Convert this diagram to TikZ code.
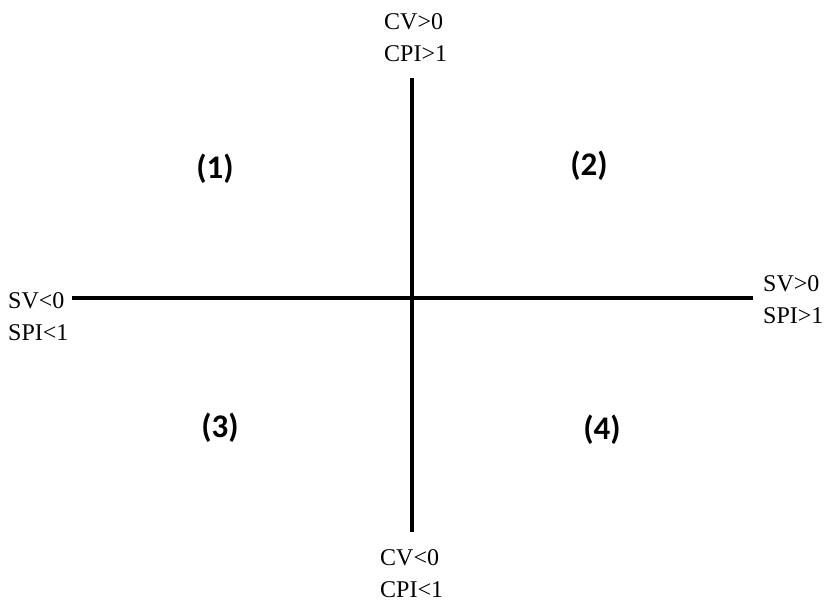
\documentclass[tikz,border=0pt]{standalone}
\usepackage{fontspec}
\setmainfont{Liberation Serif}
\newfontfamily\calib{Carlito}
\usetikzlibrary{positioning}

\begin{document}
\begin{tikzpicture}[
  x=1pt, y=-1pt,
  axis/.style={line width=3.6pt},
  cond/.style={inner sep=0pt, align=left, font=\fontsize{24}{32}\selectfont},
  quad/.style={inner sep=0pt, font=\calib\bfseries\fontsize{33}{38}\selectfont}
]
  \useasboundingbox (0,0) rectangle (834,602);
  \coordinate (ytop) at (412,78);
  \coordinate (ybot) at (412,532);
  \coordinate (xleft) at (72,298);
  \coordinate (xright) at (753,298);

  \draw[axis] (ytop) -- (ybot);
  \draw[axis] (xleft) -- (xright);

  \node[cond, anchor=north west] (costup) at (384,13) {CV>0\\CPI>1};
  \node[cond, anchor=north west] (costdown) at (380,549) {CV<0\\CPI<1};
  \node[cond, anchor=north west] (schedleft) at (8,292) {SV<0\\SPI<1};
  \node[cond, anchor=north west] (schedright) at (763,275) {SV>0\\SPI>1};

  \node[quad] (q1) at (215,169) {(1)};
  \node[quad] (q2) at (589,166) {(2)};
  \node[quad] (q3) at (220,428) {(3)};
  \node[quad] (q4) at (602,430) {(4)};
\end{tikzpicture}
\end{document}
